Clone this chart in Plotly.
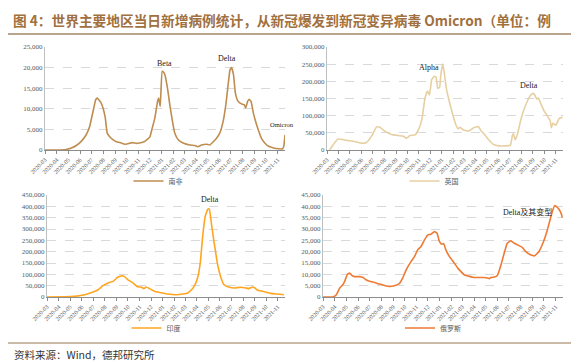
import plotly.graph_objects as go

# ---------------- data ----------------
sa_dates = ["2020-03-01","2020-04-22","2020-05-09","2020-05-22","2020-06-04","2020-06-17","2020-06-26",
            "2020-07-05","2020-07-12","2020-07-16","2020-07-25","2020-07-31","2020-08-06","2020-08-11",
            "2020-08-17","2020-08-26","2020-09-04","2020-09-17","2020-09-26","2020-10-05","2020-10-15",
            "2020-10-27","2020-11-04","2020-11-16","2020-11-24","2020-12-01","2020-12-07","2020-12-14",
            "2020-12-21","2020-12-24","2020-12-28","2021-01-02","2021-01-05","2021-01-09","2021-01-16",
            "2021-01-22","2021-01-29","2021-02-04","2021-02-13","2021-02-26","2021-03-16","2021-03-29",
            "2021-04-05","2021-04-15","2021-04-28","2021-05-07","2021-05-16","2021-05-24","2021-06-02",
            "2021-06-11","2021-06-18","2021-06-24","2021-06-29","2021-07-03","2021-07-08","2021-07-13",
            "2021-07-20","2021-07-29","2021-08-05","2021-08-09","2021-08-14","2021-08-18","2021-08-23",
            "2021-08-29","2021-09-05","2021-09-12","2021-09-19","2021-09-28","2021-10-08","2021-10-21",
            "2021-11-03","2021-11-14","2021-11-17","2021-11-20"]
sa_values = [0,50,480,1100,2100,3700,5700,
             9400,12200,12600,11600,10200,7800,4100,
             3300,2500,2000,1700,1400,1500,1800,
             1600,1700,2000,2600,3200,5300,7800,
             11800,12600,10600,19100,19000,18300,15000,
             11000,7000,4100,2500,1700,1200,1100,
             800,1200,1400,1200,2000,2800,4100,
             7000,11000,15900,19500,20000,18300,13800,
             11800,11200,11000,10200,11800,12300,11800,
             9000,6600,4600,2900,1700,900,500,
             300,300,1000,3700]

uk_dates = ["2020-03-08","2020-03-30","2020-04-22","2020-05-14","2020-06-01","2020-06-10","2020-06-19",
            "2020-06-30","2020-07-11","2020-07-20","2020-08-02","2020-08-20","2020-09-07","2020-09-21",
            "2020-09-28","2020-10-08","2020-10-22","2020-10-31","2020-11-09","2020-11-17","2020-11-24",
            "2020-11-29","2020-12-05","2020-12-12","2020-12-17","2020-12-21","2020-12-26","2020-12-29",
            "2021-01-03","2021-01-07","2021-01-13","2021-01-19","2021-01-28","2021-02-06","2021-02-13",
            "2021-02-19","2021-02-28","2021-03-14","2021-03-27","2021-04-09","2021-04-16","2021-04-25",
            "2021-05-06","2021-05-19","2021-06-02","2021-06-20","2021-07-03","2021-07-08","2021-07-11",
            "2021-07-15","2021-07-21","2021-07-30","2021-08-08","2021-08-17","2021-08-26","2021-09-01",
            "2021-09-05","2021-09-11","2021-09-15","2021-09-22","2021-09-30","2021-10-09","2021-10-17",
            "2021-10-20","2021-10-24","2021-11-01","2021-11-10","2021-11-19"]
uk_values = [0,32000,28000,25000,20000,20000,27000,
             45000,67000,66000,55000,45000,42000,40000,
             34000,42000,44000,60000,90000,150000,172000,
             160000,205000,215000,212000,180000,182000,215000,
             250000,230000,180000,150000,112000,78000,62000,
             66000,58000,55000,65000,68000,55000,45000,
             30000,16000,12000,12000,14000,42000,48000,
             30000,44000,85000,118000,142000,160000,165000,
             162000,148000,152000,135000,115000,100000,85000,
             65000,78000,72000,92000,95000]

in_dates = ["2020-03-01","2020-04-17","2020-05-14","2020-06-09","2020-07-01","2020-07-14","2020-07-27",
            "2020-08-09","2020-08-23","2020-09-03","2020-09-13","2020-09-21","2020-10-01","2020-10-14",
            "2020-10-26","2020-11-05","2020-11-12","2020-11-18","2020-11-27","2020-12-10","2020-12-28",
            "2021-01-14","2021-02-05","2021-02-23","2021-03-08","2021-03-18","2021-03-27","2021-04-03",
            "2021-04-10","2021-04-16","2021-04-23","2021-04-30","2021-05-04","2021-05-10","2021-05-17",
            "2021-05-26","2021-06-04","2021-06-12","2021-06-26","2021-07-09","2021-07-26","2021-08-08",
            "2021-08-17","2021-08-26","2021-09-01","2021-09-08","2021-09-21","2021-10-13","2021-10-31",
            "2021-11-17"]
in_values = [0,500,3000,10000,22000,32000,50000,
             62000,69000,86000,93000,91000,76000,62000,
             45000,44000,37000,44000,37000,25000,19000,
             13000,10000,13000,18000,32000,54000,84000,
             150000,260000,355000,388000,388000,318000,237000,
             142000,84000,54000,43000,40000,43000,40000,
             37000,44000,40000,31000,25000,16000,13000,
             10000]

ru_dates = ["2020-03-01","2020-03-27","2020-04-05","2020-04-14","2020-04-22","2020-04-27","2020-05-04",
            "2020-05-10","2020-05-16","2020-05-23","2020-06-05","2020-06-14","2020-06-22","2020-07-01",
            "2020-07-14","2020-07-27","2020-08-09","2020-08-22","2020-09-04","2020-09-17","2020-09-26",
            "2020-10-05","2020-10-18","2020-10-27","2020-11-04","2020-11-13","2020-11-22","2020-12-01",
            "2020-12-09","2020-12-18","2020-12-25","2020-12-31","2021-01-06","2021-01-11","2021-01-17",
            "2021-01-26","2021-02-08","2021-02-17","2021-02-25","2021-03-06","2021-03-19","2021-04-01",
            "2021-04-19","2021-04-27","2021-05-06","2021-05-11","2021-05-15","2021-05-24","2021-06-01",
            "2021-06-10","2021-06-19","2021-06-27","2021-07-06","2021-07-15","2021-07-24","2021-08-06",
            "2021-08-14","2021-08-27","2021-09-07","2021-09-18","2021-09-30","2021-10-10","2021-10-17",
            "2021-10-23","2021-10-29","2021-11-03","2021-11-09","2021-11-16","2021-11-18"]
ru_values = [0,0,1000,4000,5400,7000,10000,
             10600,9500,9000,9000,8600,7600,6900,
             6400,5700,5100,4700,5000,5900,8400,
             12000,15700,17900,20800,22300,25200,27400,
             27700,28900,28100,24500,23300,23600,20800,
             17900,15000,12800,11300,9800,9100,8600,
             8600,8600,8400,8100,8600,8800,9500,
             13900,19400,23700,24800,23700,23000,21800,
             20100,18600,18200,20100,24500,29600,34000,
             37700,40300,39900,38800,36500,35000]

series_names = ["南非", "英国", "印度", "俄罗斯"]
series_colors = ["#bf8d50", "#e6d0a2", "#ffa51f", "#ee7a33"]
y_max = [25000, 300000, 450000, 45000]
y_step = [5000, 50000, 50000, 5000]
x_range = ["2020-03-01", "2021-11-20"]

title_text = "<b>图 4：世界主要地区当日新增病例统计，从新冠爆发到新冠变异病毒 Omicron（单位：例</b>"
source_text = "资料来源：Wind，德邦研究所"

notes = [  # (panel, date, value, text, size)
    (0, "2021-01-08", 20900, "Beta", 8),
    (0, "2021-06-22", 22100, "Delta", 8),
    (0, "2021-11-12", 6100, "Omicron", 6.5),
    (1, "2020-11-28", 239000, "Alpha", 8),
    (1, "2021-08-21", 187000, "Delta", 8),
    (2, "2021-05-06", 432000, "Delta", 8),
    (3, "2021-08-20", 37500, "Delta及其变型", 8),
]

# ---------------- layout geometry (pixels) ----------------
W, H = 579, 363
panels_px = [  # x0, x1, ytop, ybottom
    (37, 277, 39, 142),
    (319, 555, 39, 142),
    (39, 277, 187, 289),
    (315, 555, 187, 289),
]
legend_px = [(150, 173), (426, 173), (148, 320), (425, 320)]

fig = go.Figure()
all_dates = [sa_dates, uk_dates, in_dates, ru_dates]
all_values = [sa_values, uk_values, in_values, ru_values]

serif = "Liberation Serif, Times New Roman, serif"
cjk = "Noto Sans CJK SC"

for i in range(4):
    sfx = "" if i == 0 else str(i + 1)
    leg = "legend" if i == 0 else "legend" + str(i + 1)
    fig.add_trace(go.Scatter(
        x=all_dates[i], y=all_values[i], mode="lines", name=series_names[i],
        line=dict(color=series_colors[i], width=1.6, shape="spline", smoothing=0.35),
        xaxis="x" + sfx, yaxis="y" + sfx, legend=leg, hoverinfo="skip",
    ))
    x0, x1, yt, yb = panels_px[i]
    fig.layout["xaxis" + sfx] = dict(
        domain=[x0 / W, x1 / W], anchor="y" + sfx, type="date", range=x_range,
        tick0="2020-03-01", dtick="M1", tickformat="%Y-%m", tickangle=-45,
        tickfont=dict(family=serif, size=6, color="#595959"),
        showline=True, linecolor="#8c8c8c", linewidth=1, automargin=False,
        ticks="outside", ticklen=3, tickcolor="#8c8c8c", showgrid=False, zeroline=False,
    )
    fig.layout["yaxis" + sfx] = dict(
        domain=[1 - yb / H, 1 - yt / H], anchor="x" + sfx, range=[0, y_max[i]],
        dtick=y_step[i], tickformat=",d", automargin=False,
        tickfont=dict(family=serif, size=7, color="#595959"),
        showline=True, linecolor="#bfbfbf", linewidth=1,
        showgrid=True, gridcolor="#d9d9d9", griddash="dash", gridwidth=0.7,
        zeroline=False, ticks="",
    )
    lx, ly = legend_px[i]
    fig.layout[leg] = dict(
        x=lx / W, y=1 - ly / H, xanchor="center", yanchor="middle",
        orientation="h", bgcolor="rgba(0,0,0,0)",
        font=dict(family=cjk, size=7, color="#595959"),
        itemwidth=30, tracegroupgap=0,
    )

for (p, d, v, t, s) in notes:
    sfx = "" if p == 0 else str(p + 1)
    fig.add_annotation(x=d, y=v, xref="x" + sfx, yref="y" + sfx, text=t, showarrow=False,
                       font=dict(family=serif if t.isascii() else serif + ", " + cjk, size=s, color="#222222"))

# title and source
fig.add_annotation(x=3 / W, y=1 - 12 / H, xref="paper", yref="paper", xanchor="left", yanchor="middle",
                   text=title_text, showarrow=False,
                   font=dict(family=cjk, size=13.7, color="#a0703e"))
fig.add_annotation(x=4 / W, y=1 - 346 / H, xref="paper", yref="paper", xanchor="left", yanchor="middle",
                   text=source_text, showarrow=False,
                   font=dict(family=cjk, size=10.5, color="#333333"))
fig.add_shape(type="line", xref="paper", yref="paper", x0=0, x1=1, y0=1 - 26 / H, y1=1 - 26 / H,
              line=dict(color="#b9a58d", width=2))
fig.add_shape(type="line", xref="paper", yref="paper", x0=0, x1=1, y0=1 - 335 / H, y1=1 - 335 / H,
              line=dict(color="#b9a58d", width=1.5))

fig.update_layout(
    width=W, height=H, margin=dict(l=0, r=0, t=0, b=0, autoexpand=False),
    paper_bgcolor="white", plot_bgcolor="white", showlegend=True,
)

fig.write_html("out.html")
